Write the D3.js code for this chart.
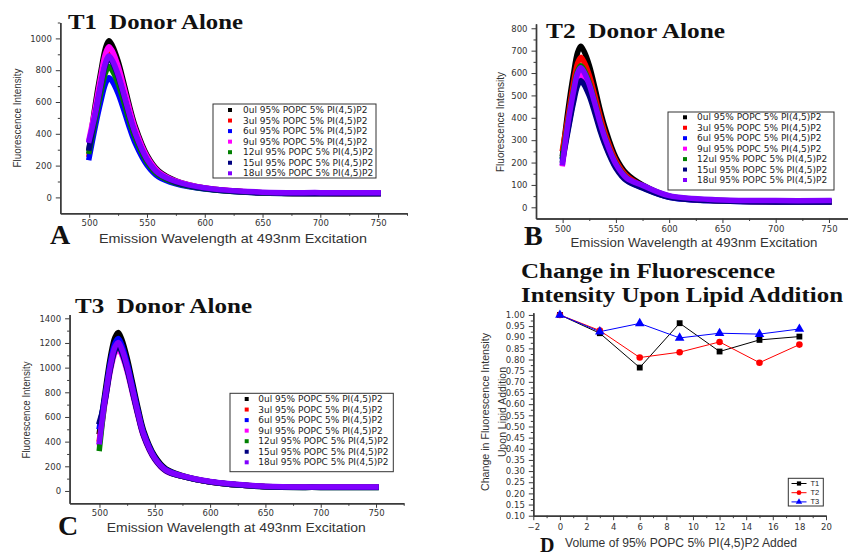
<!DOCTYPE html>
<html>
<head>
<meta charset="utf-8">
<script src="https://cdn.jsdelivr.net/npm/d3@7"></script>
<style>
  html, body { margin: 0; padding: 0; background: #fff; }
  svg { display: block; }
</style>
</head>
<body>
<svg id="fig" width="848" height="556"></svg>
<script>
// ---- Data ----------------------------------------------------------------
// Emission wavelengths (nm) sampled for every spectrum
const wavelengths = [500, 505, 510, 514, 517, 520, 525, 530, 535, 540, 550, 560, 575, 600, 650, 700, 750];

// Lipid volumes (ul) added in the titration
const lipidVolumes = [0, 3, 6, 9, 12, 15, 18];
const seriesColors = ["#000000", "#ff0000", "#0000ff", "#ff00ff", "#008000", "#000080", "#8000ff"];

// T1 donor-alone spectra, one row per lipid volume
const t1Spectra = [
  [310, 571, 788, 936, 985, 955, 857, 719, 571, 443, 266, 167, 105, 60, 30, 25, 25],
  [270, 524, 723, 859, 904, 877, 786, 660, 524, 407, 244, 154, 98, 57, 29, 24, 24],
  [250, 436, 602, 714, 752, 729, 654, 549, 436, 338, 203, 128, 85, 52, 27, 24, 24],
  [370, 550, 758, 901, 948, 920, 825, 692, 550, 427, 256, 161, 102, 59, 30, 26, 27],
  [290, 477, 658, 782, 823, 798, 716, 601, 477, 370, 222, 140, 90, 54, 28, 25, 25],
  [310, 508, 700, 831, 875, 849, 761, 639, 508, 394, 236, 149, 95, 56, 29, 25, 25],
  [360, 516, 711, 845, 889, 862, 773, 649, 516, 400, 240, 151, 100, 60, 33, 30, 30]
];

// T2 donor-alone spectra
const t2Spectra = [
  [240, 432, 590, 691, 720, 698, 634, 540, 439, 353, 223, 151, 100, 50, 30, 25, 25],
  [262, 402, 549, 643, 670, 650, 590, 503, 409, 328, 208, 141, 95, 48, 29, 25, 25],
  [225, 349, 477, 559, 582, 565, 512, 437, 355, 285, 180, 122, 88, 45, 28, 25, 25],
  [195, 360, 492, 576, 600, 582, 528, 450, 366, 294, 186, 126, 90, 47, 29, 26, 26],
  [230, 380, 519, 608, 633, 614, 557, 475, 386, 310, 196, 133, 93, 48, 29, 26, 26],
  [210, 340, 464, 543, 566, 549, 498, 425, 345, 277, 175, 119, 86, 45, 28, 24, 24],
  [200, 374, 512, 599, 624, 605, 549, 468, 381, 306, 193, 131, 98, 52, 33, 30, 30]
];

// T3 donor-alone spectra
const t3Spectra = [
  [480, 797, 1092, 1246, 1285, 1234, 1079, 874, 668, 488, 283, 180, 125, 75, 36, 30, 30],
  [420, 737, 1011, 1153, 1189, 1141, 999, 809, 618, 452, 262, 166, 118, 73, 35, 30, 30],
  [520, 766, 1051, 1199, 1236, 1187, 1038, 840, 643, 470, 272, 173, 121, 74, 35, 30, 30],
  [390, 715, 980, 1118, 1153, 1107, 969, 784, 600, 438, 254, 161, 118, 73, 35, 30, 31],
  [345, 732, 1003, 1145, 1180, 1133, 991, 802, 614, 448, 260, 165, 118, 72, 34, 29, 29],
  [560, 729, 999, 1140, 1175, 1128, 987, 799, 611, 447, 259, 165, 118, 72, 34, 29, 29],
  [400, 746, 1023, 1168, 1204, 1156, 1011, 819, 626, 458, 265, 169, 122, 76, 38, 32, 32]
];

// Relative change in peak intensity upon lipid addition
const ratioT1 = [1.000, 0.918, 0.764, 0.963, 0.836, 0.888, 0.903];
const ratioT2 = [1.000, 0.930, 0.809, 0.833, 0.879, 0.786, 0.867];
const ratioT3 = [1.000, 0.925, 0.962, 0.897, 0.918, 0.914, 0.937];
const ratioNames = ["T1", "T2", "T3"];
const ratioColors = ["#000000", "#ff0000", "#0000ff"];

// Tick values
const wlTicks = [500, 550, 600, 650, 700, 750];
const wlMinor = [525, 575, 625, 675, 725, 775];
const t1Ticks = [0, 200, 400, 600, 800, 1000];
const t1Minor = [100, 300, 500, 700, 900, 1100];
const t2Ticks = [0, 100, 200, 300, 400, 500, 600, 700, 800];
const t2Minor = [50, 150, 250, 350, 450, 550, 650, 750];
const t3Ticks = [0, 200, 400, 600, 800, 1000, 1200, 1400];
const t3Minor = [100, 300, 500, 700, 900, 1100, 1300];
const volTicks = [-2, 0, 2, 4, 6, 8, 10, 12, 14, 16, 18, 20];
const volMinor = [-1, 1, 3, 5, 7, 9, 11, 13, 15, 17, 19];
const ratioTicks = [0.10, 0.15, 0.20, 0.25, 0.30, 0.35, 0.40, 0.45, 0.50, 0.55, 0.60, 0.65, 0.70, 0.75, 0.80, 0.85, 0.90, 0.95, 1.00];
const ratioMinor = [0.125, 0.175, 0.225, 0.275, 0.325, 0.375, 0.425, 0.475, 0.525, 0.575, 0.625, 0.675, 0.725, 0.775, 0.825, 0.875, 0.925, 0.975];

// ---- Drawing helpers -----------------------------------------------------
const svg = d3.select("#fig");
const AXIS = "#3a3a3a";
const TICK_FONT = "'DejaVu Sans', Verdana, sans-serif";
const SANS = "'Liberation Sans', Arial, sans-serif";
const SERIF = "'Liberation Serif', 'Times New Roman', serif";

function text(g, str, x, y, o = {}) {
  const t = g.append("text")
    .attr("x", x).attr("y", y)
    .attr("font-family", o.family || SANS)
    .attr("font-size", o.size || 11)
    .attr("font-weight", o.weight || "normal")
    .attr("fill", o.fill || "#333")
    .attr("text-anchor", o.anchor || "start")
    .style("white-space", "pre")
    .text(str);
  if (o.len) t.attr("textLength", o.len).attr("lengthAdjust", "spacingAndGlyphs");
  if (o.rotate) t.attr("transform", `rotate(${o.rotate},${x},${y})`);
  if (o.baseline) t.attr("dominant-baseline", o.baseline);
  return t;
}

function styleAxis(sel) {
  sel.select(".domain").attr("stroke", AXIS).attr("stroke-width", 1.4);
  sel.selectAll(".tick line").attr("stroke", AXIS).attr("stroke-width", 1);
  sel.selectAll(".tick text")
    .attr("font-family", TICK_FONT).attr("font-size", 8.5).attr("fill", "#333");
}

function drawAxes(g, x, y, o) {
  const y0 = y.range()[0], x0 = x.range()[0];
  g.append("g").attr("transform", `translate(0,${y0})`)
    .call(d3.axisBottom(x).tickValues(o.xMinor).tickSize(2.5).tickSizeOuter(0).tickFormat(""))
    .call(styleAxis);
  g.append("g").attr("transform", `translate(0,${y0})`)
    .call(d3.axisBottom(x).tickValues(o.xMajor).tickSize(4.5).tickPadding(o.xPad || 2.5).tickSizeOuter(0).tickFormat(o.xFmt || d3.format("d")))
    .call(styleAxis);
  g.append("g").attr("transform", `translate(${x0},0)`)
    .call(d3.axisLeft(y).tickValues(o.yMinor).tickSize(2.5).tickSizeOuter(0).tickFormat(""))
    .call(styleAxis);
  g.append("g").attr("transform", `translate(${x0},0)`)
    .call(d3.axisLeft(y).tickValues(o.yMajor).tickSize(4.5).tickPadding(o.yPad || 4).tickSizeOuter(0).tickFormat(o.yFmt || d3.format("d")))
    .call(styleAxis);
}

// One donor-alone emission panel
function spectraPanel(p) {
  const g = svg.append("g");
  const x = d3.scaleLinear().domain(p.xDomain).range(p.xRange);
  const y = d3.scaleLinear().domain(p.yDomain).range(p.yRange);

  drawAxes(g, x, y, { xMajor: wlTicks, xMinor: wlMinor, yMajor: p.yTicks, yMinor: p.yMinor });

  const line = d3.line()
    .x((d, i) => x(wavelengths[i]))
    .y(d => y(d))
    .curve(d3.curveCatmullRom.alpha(0.5));

  p.data.forEach((row, s) => {
    g.append("path")
      .attr("d", line(row))
      .attr("fill", "none")
      .attr("stroke", seriesColors[s])
      .attr("stroke-width", 5.5)
      .attr("stroke-linejoin", "round")
      .attr("stroke-linecap", "square");
  });

  // Title, panel letter, axis titles
  text(g, p.title, p.titleX, p.titleY, { family: SERIF, weight: "bold", size: 22, fill: "#111", len: p.titleLen });
  text(g, p.letter, p.letterX, p.letterY, { family: SERIF, weight: "bold", size: 28, fill: "#111" });
  text(g, "Emission Wavelength at 493nm Excitation", p.xtX, p.xtY,
       { size: 12, anchor: "middle", len: p.xtLen, fill: "#333" });
  text(g, "Fluorescence Intensity", p.ytX, p.ytY,
       { size: 10, anchor: "middle", len: p.ytLen, rotate: -90, baseline: "central", fill: "#333" });

  // Legend
  const lg = g.append("g");
  lg.append("rect")
    .attr("x", p.leg.x0).attr("y", p.leg.y0)
    .attr("width", p.leg.x1 - p.leg.x0).attr("height", p.leg.y1 - p.leg.y0)
    .attr("fill", "#fff").attr("stroke", "#333").attr("stroke-width", 1);
  lipidVolumes.forEach((v, s) => {
    const ry = p.leg.row0 + s * p.leg.step;
    lg.append("rect")
      .attr("x", p.leg.mx - 2).attr("y", ry - 2)
      .attr("width", 4).attr("height", 4)
      .attr("fill", seriesColors[s]);
    text(lg, `${v}ul 95% POPC 5% PI(4,5)P2`, p.leg.tx, ry,
         { family: TICK_FONT, size: 9, fill: "#222", baseline: "central" });
  });
}

// ---- Panels A, B, C ------------------------------------------------------
spectraPanel({
  data: t1Spectra, title: "T1  Donor Alone", letter: "A",
  xDomain: [475, 775], xRange: [60.3, 407],
  yDomain: [-100, 1100], yRange: [213.3, 22.5],
  yTicks: t1Ticks, yMinor: t1Minor,
  titleX: 68, titleY: 29, titleLen: 175,
  letterX: 50, letterY: 244,
  xtX: 233, xtY: 242.5, xtLen: 268,
  ytX: 17, ytY: 118, ytLen: 99,
  leg: { x0: 213, y0: 104, x1: 376, y1: 178, row0: 110, step: 10.55, mx: 230, tx: 243 }
});

spectraPanel({
  data: t2Spectra, title: "T2  Donor Alone", letter: "B",
  xDomain: [475, 775], xRange: [536, 855.6],
  yDomain: [-50, 820], yRange: [218.5, 23.8],
  yTicks: t2Ticks, yMinor: t2Minor,
  titleX: 546, titleY: 38, titleLen: 179,
  letterX: 524, letterY: 245,
  xtX: 694, xtY: 247, xtLen: 247,
  ytX: 500, ytY: 122, ytLen: 100,
  leg: { x0: 668, y0: 112, x1: 834, y1: 190, row0: 117.3, step: 10.45, mx: 685, tx: 697 }
});

spectraPanel({
  data: t3Spectra, title: "T3  Donor Alone", letter: "C",
  xDomain: [473, 775], xRange: [69.6, 403.7],
  yDomain: [-100, 1430], yRange: [503.3, 314.6],
  yTicks: t3Ticks, yMinor: t3Minor,
  titleX: 75, titleY: 312.5, titleLen: 177,
  letterX: 58, letterY: 535,
  xtX: 236.3, xtY: 532, xtLen: 259,
  ytX: 26.7, ytY: 410, ytLen: 97,
  leg: { x0: 230, y0: 393.3, x1: 393.3, y1: 471.7, row0: 399, step: 10.55, mx: 246.7, tx: 258.3 }
});

// ---- Panel D: relative intensity change ---------------------------------
(function () {
  const g = svg.append("g");
  const x = d3.scaleLinear().domain([-2, 20]).range([533.3, 826]);
  const y = d3.scaleLinear().domain([0.10, 1.01]).range([515.7, 312.7]);

  drawAxes(g, x, y, {
    xMajor: volTicks, xMinor: volMinor, yMajor: ratioTicks, yMinor: ratioMinor,
    yFmt: d3.format(".2f"), xPad: 3.5, yPad: 4
  });

  const series = [ratioT1, ratioT2, ratioT3];
  const symbols = [d3.symbolSquare, d3.symbolCircle, d3.symbolTriangle];
  const sizes = [34, 34, 40];
  const line = d3.line().x((d, i) => x(lipidVolumes[i])).y(d => y(d));

  series.forEach((vals, s) => {
    g.append("path").attr("d", line(vals))
      .attr("fill", "none").attr("stroke", ratioColors[s]).attr("stroke-width", 1);
  });
  series.forEach((vals, s) => {
    g.selectAll(null).data(vals).join("path")
      .attr("transform", (d, i) => `translate(${x(lipidVolumes[i])},${y(d)})`)
      .attr("d", d3.symbol().type(symbols[s]).size(sizes[s]))
      .attr("fill", ratioColors[s]);
  });

  // Legend
  const lg = g.append("g");
  lg.append("rect").attr("x", 788.3).attr("y", 478.3).attr("width", 35).attr("height", 27.7)
    .attr("fill", "#fff").attr("stroke", "#333").attr("stroke-width", 1);
  ratioNames.forEach((n, s) => {
    const ry = 483.5 + s * 9.2;
    lg.append("line").attr("x1", 791.5).attr("x2", 806.5).attr("y1", ry).attr("y2", ry)
      .attr("stroke", ratioColors[s]).attr("stroke-width", 1);
    lg.append("path").attr("transform", `translate(799,${ry})`)
      .attr("d", d3.symbol().type(symbols[s]).size(18)).attr("fill", ratioColors[s]);
    text(lg, n, 810.5, ry, { family: SANS, size: 7.5, fill: "#222", baseline: "central" });
  });

  // Titles
  text(g, "Change in Fluorescence", 521, 278, { family: SERIF, weight: "bold", size: 21, fill: "#111", len: 254 });
  text(g, "Intensity Upon Lipid Addition", 521, 302, { family: SERIF, weight: "bold", size: 21, fill: "#111", len: 322 });
  text(g, "D", 540, 551.5, { family: SERIF, weight: "bold", size: 20, fill: "#111" });
  text(g, "Volume of 95% POPC 5% PI(4,5)P2 Added", 681, 546.5,
       { size: 12, anchor: "middle", len: 232, fill: "#333" });
  text(g, "Change in Fluorescence Intensity", 485, 412,
       { size: 10.5, anchor: "middle", len: 158, rotate: -90, baseline: "central", fill: "#333" });
  text(g, "Upon Lipid Addition", 501.7, 412,
       { size: 10.5, anchor: "middle", len: 90, rotate: -90, baseline: "central", fill: "#333" });
})();
</script>
</body>
</html>
